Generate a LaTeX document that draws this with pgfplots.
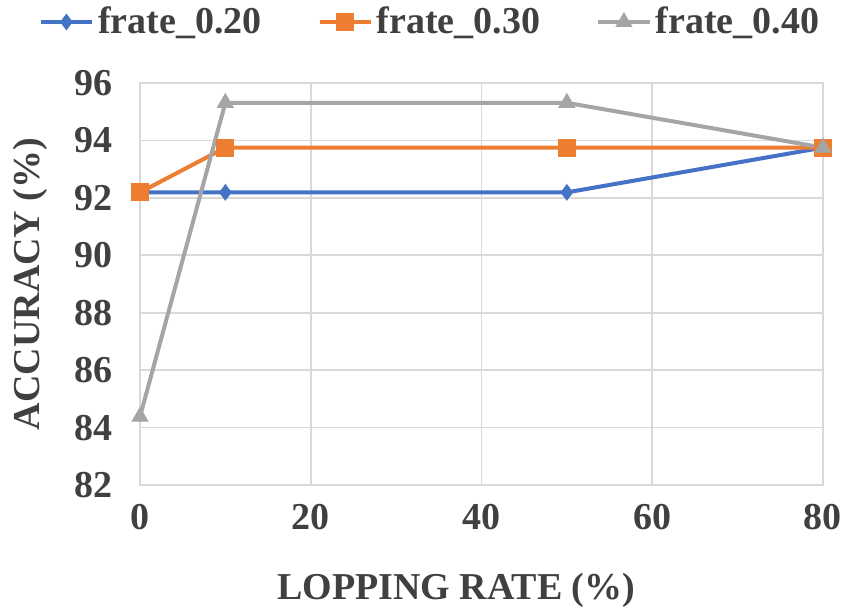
\documentclass[border=0pt]{standalone}
\usepackage{pgfplots}
\pgfplotsset{compat=1.18}
\usepackage{fontspec}
\setmainfont{Liberation Serif}
\definecolor{sBlue}{HTML}{4472C4}
\definecolor{sOrange}{HTML}{ED7D31}
\definecolor{sGray}{HTML}{A5A5A5}
\definecolor{gridc}{HTML}{D9D9D9}
\definecolor{txt}{HTML}{404040}
\begin{document}
\begin{tikzpicture}[font=\fontsize{19}{23}\selectfont\bfseries]
\begin{axis}[
  scale only axis,
  width=341.5pt, height=201pt,
  xmin=0, xmax=80, ymin=82, ymax=96,
  xtick={0,20,40,60,80},
  ytick={82,84,...,96},
  grid=major,
  grid style={draw=gridc, line width=0.8pt},
  axis line style={draw=gridc, line width=0.8pt},
  major tick length=0pt,
  tick label style={text=txt},
  /pgf/number format/assume math mode=true,
  xticklabel style={yshift=-6pt},
  yticklabel style={xshift=-10pt},
  xlabel={LOPPING RATE (\%)},
  ylabel={ACCURACY (\%)},
  xlabel style={at={(axis description cs:0.463,0)}, anchor=center, yshift=-52.5pt, text=txt},
  ylabel style={at={(axis description cs:0,0.5)}, anchor=center, yshift=55pt, text=txt},
  clip=false,
  legend columns=3,
  legend style={at={(0.426,1)}, anchor=center, yshift=30.5pt, draw=none, fill=none,
    text=txt, inner sep=0pt,
    /tikz/every even column/.append style={column sep=26pt}},
  legend image code/.code={
    \draw[mark repeat=2, mark phase=2] plot coordinates {(0cm,0cm) (0.45cm,0cm) (0.9cm,0cm)};},
]
\addplot[sBlue, line width=2pt, mark=diamond*, mark size=3.8pt, mark options={fill=sBlue, draw=sBlue, line width=0.5pt}]
  coordinates {(0,92.19) (10,92.19) (50,92.19) (80,93.75)};
\addlegendentry{frate\_0.20}
\addplot[sOrange, line width=2pt, mark=square*, mark size=4.2pt, mark options={fill=sOrange, draw=sOrange, line width=0.5pt}]
  coordinates {(0,92.19) (10,93.75) (50,93.75) (80,93.75)};
\addlegendentry{frate\_0.30}
\addplot[sGray, line width=2pt, mark=triangle*, mark size=4.5pt, mark options={fill=sGray, draw=sGray, line width=0.5pt}]
  coordinates {(0,84.38) (10,95.31) (50,95.31) (80,93.75)};
\addlegendentry{frate\_0.40}
\end{axis}
\pgfresetboundingbox
\path (-70pt,-65pt) rectangle (356pt,242.5pt);
\end{tikzpicture}
\end{document}
